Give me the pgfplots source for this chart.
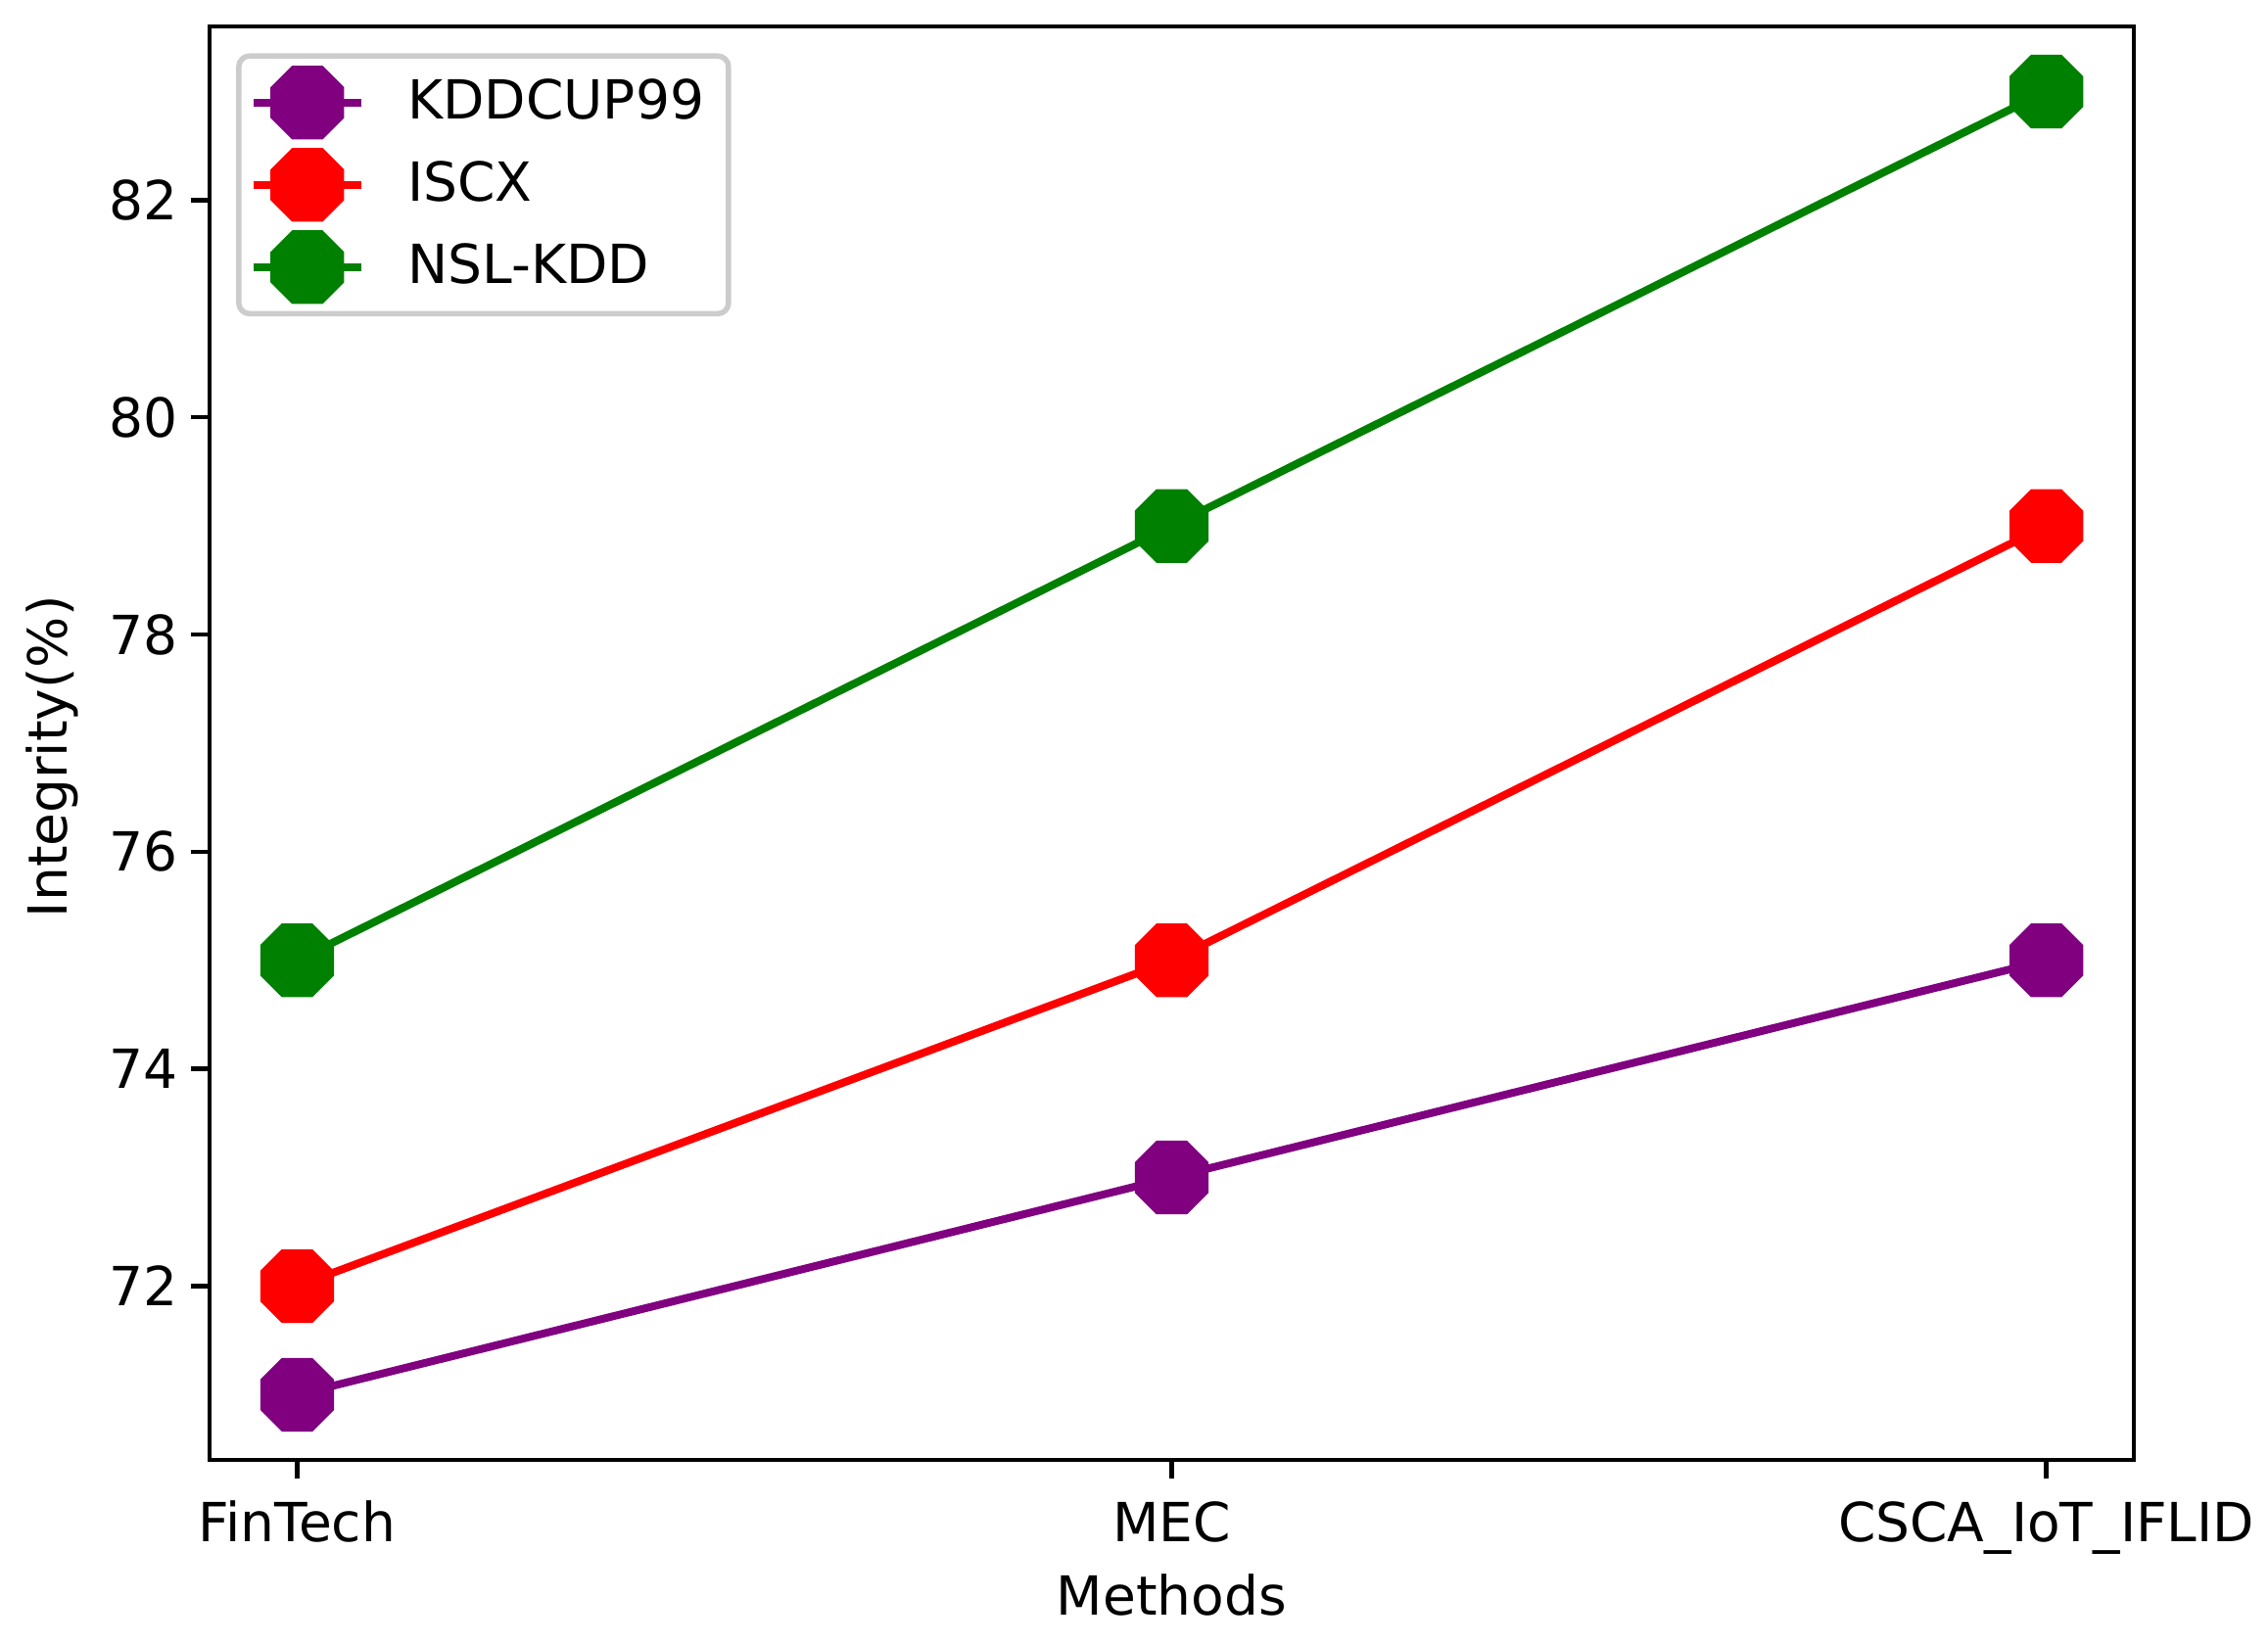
\documentclass[border=0pt]{standalone}
\usepackage{fontspec}
\setmainfont{DejaVu Sans}
\usepackage{pgfplots}
\pgfplotsset{compat=1.18}
\definecolor{mplpurple}{RGB}{128,0,128}
\definecolor{mplgreen}{RGB}{0,128,0}
% flat-topped octagon, like matplotlib's marker '8'
\pgfdeclareplotmark{octagon}{%
  \pgfpathmoveto{\pgfpointpolar{22.5}{\pgfplotmarksize}}%
  \pgfpathlineto{\pgfpointpolar{67.5}{\pgfplotmarksize}}%
  \pgfpathlineto{\pgfpointpolar{112.5}{\pgfplotmarksize}}%
  \pgfpathlineto{\pgfpointpolar{157.5}{\pgfplotmarksize}}%
  \pgfpathlineto{\pgfpointpolar{202.5}{\pgfplotmarksize}}%
  \pgfpathlineto{\pgfpointpolar{247.5}{\pgfplotmarksize}}%
  \pgfpathlineto{\pgfpointpolar{292.5}{\pgfplotmarksize}}%
  \pgfpathlineto{\pgfpointpolar{337.5}{\pgfplotmarksize}}%
  \pgfpathclose
  \pgfusepathqfill
}
\begin{document}
\begin{tikzpicture}
\useasboundingbox (-38.9pt,-34pt) rectangle (381.9pt,270.9pt);
\begin{axis}[
    scale only axis,
    width=357pt, height=266pt,
    xmin=-0.1, xmax=2.1, ymin=70.4, ymax=83.6,
    xtick={0,1,2},
    xticklabels={FinTech,MEC,CSCA\_IoT\_IFLID},
    ytick={72,74,...,82},
    xtick pos=bottom, ytick pos=left,
    tick align=outside,
    major tick length=3.5pt,
    tick style={line width=0.8pt, black},
    axis line style={line width=0.8pt},
    /pgf/number format/assume math mode=true,
    tick label style={font=\fontsize{10}{12}\selectfont},
    xticklabel style={anchor=base, yshift=-11.6pt},
    yticklabel style={inner xsep=2.3pt},
    xlabel={Methods},
    ylabel={Integrity(\%)},
    every axis x label/.style={at={(axis description cs:0.5,0)}, anchor=base,
        yshift=-28.8pt, font=\fontsize{10}{12}\selectfont},
    every axis y label/.style={at={(axis description cs:0,0.5)}, xshift=-26.5pt,
        yshift=-2.5pt, rotate=90, anchor=base, font=\fontsize{10}{12}\selectfont},
    legend style={at={(0,1)}, anchor=north west, xshift=4.9pt, yshift=-5pt,
        draw=black!20, rounded corners=2pt, line width=1pt,
        font=\fontsize{10}{12}\selectfont, row sep=1.6pt, column sep=5.4pt,
        inner xsep=2pt, inner ysep=1.8pt,
        nodes={inner xsep=2.5pt}},
    legend cell align=left,
    legend image code/.code={
        \draw[mark repeat=2, mark phase=2] plot coordinates {(0pt,0pt) (10pt,0pt) (20pt,0pt)};
    },
    every axis plot/.append style={line width=1.45pt, mark size=7.4pt, mark=octagon},
]
\addplot[mplpurple] coordinates {(0,71) (1,73) (2,75)};
\addlegendentry{KDDCUP99}
\addplot[red] coordinates {(0,72) (1,75) (2,79)};
\addlegendentry{ISCX}
\addplot[mplgreen] coordinates {(0,75) (1,79) (2,83)};
\addlegendentry{NSL-KDD}
\end{axis}
\end{tikzpicture}
\end{document}
